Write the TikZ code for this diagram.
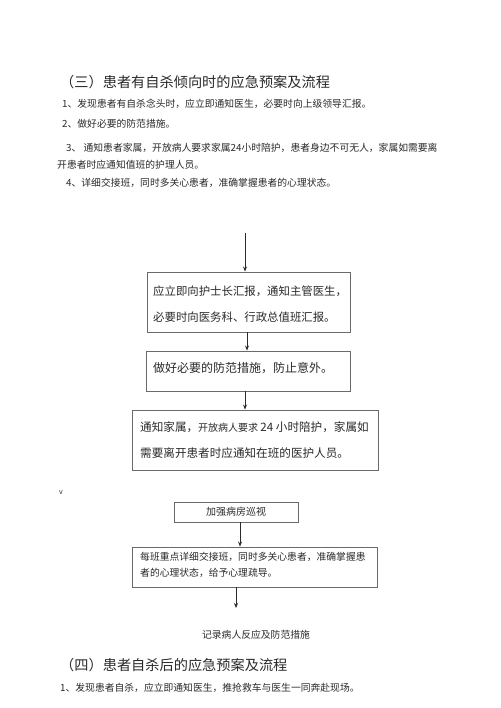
\documentclass[tikz,border=0pt]{standalone}
\usepackage{fontspec}
\setmainfont{Liberation Serif}
\newfontfamily\cjk{Noto Sans CJK SC}
\usetikzlibrary{arrows.meta}
\definecolor{ink}{HTML}{2A2A2A}
\definecolor{boxline}{HTML}{6A6A6A}
\tikzset{
  flowbox/.style={draw=boxline, line width=0.9pt},
  txt/.style={anchor=west, inner sep=0pt, text=ink, font=\cjk\fontsize{#1}{#1}\selectfont},
  txt/.default=10,
  arr/.style={draw=ink, line width=0.8pt, -{Stealth[length=5pt,width=4pt]}}
}
\begin{document}
\begin{tikzpicture}[x=1pt,y=-1pt]
\useasboundingbox[fill=white] (0,0) rectangle (500,708);
% header text
\node[txt=14.2] (t3) at (60,82) {（三）患者有自杀倾向时的应急预案及流程};
\node[txt=9.8] (l1) at (62,104) {1、发现患者有自杀念头时，应立即通知医生，必要时向上级领导汇报。};
\node[txt=9.8] (l2) at (62,124) {2、做好必要的防范措施。};
\node[txt=9.8] (l3) at (66,148) {3、 通知患者家属，开放病人要求家属24小时陪护，患者身边不可无人，家属如需要离};
\node[txt=9.8] (l3b) at (57,165) {开患者时应通知值班的护理人员。};
\node[txt=9.8] (l4) at (66,183) {4、详细交接班，同时多关心患者，准确掌握患者的心理状态。};
% flow boxes
\node[flowbox, minimum width=203pt, minimum height=60pt] (b1) at (248.5,302) {};
\node[txt=11.4] at (153,291) {应立即向护士长汇报，通知主管医生，};
\node[txt=11.4] at (153,317) {必要时向医务科、行政总值班汇报。};
\node[flowbox, minimum width=204pt, minimum height=40pt] (b2) at (248,371) {};
\node[txt=12] at (153,368) {做好必要的防范措施，防止意外。};
\node[flowbox, minimum width=246pt, minimum height=60pt] (b3) at (255,440) {};
\node[txt=11.6] at (140,427) {通知家属，\fontsize{10}{10}\selectfont 开放病人要求 \fontsize{11.6}{11.6}\selectfont 24 小时陪护，家属如};
\node[txt=11.6] at (140,453) {需要离开患者时应通知在班的医护人员。};
\node[txt=7, text=ink] (v) at (59,493) {v};
\node[flowbox, minimum width=124pt, minimum height=20pt] (b4) at (236,512) {};
\node[txt=10, anchor=center] at (b4) {加强病房巡视};
\node[flowbox, minimum width=245pt, minimum height=40pt] (b5) at (254.5,567) {};
\node[txt=9.8] at (140,557) {每班重点详细交接班，同时多关心患者，准确掌握患};
\node[txt=9.8] at (140,573) {者的心理状态，给予心理疏导。};
\coordinate (top) at (245,233);
\coordinate (end) at (236,608);
\node[txt=9.8, anchor=center] (rec) at (256,635) {记录病人反应及防范措施};
% arrows
\draw[arr] (top) -- (top |- b1.north);
\draw[arr] (b1.south -| 247,0) -- (b2.north -| 247,0);
\draw[arr] (b2.south -| 245,0) -- (b3.north -| 245,0);
\draw[arr] (b4.south -| 240,0) -- (b5.north -| 240,0);
\draw[arr] (b5.south -| 236,0) -- (end);
% footer
\node[txt=14.2] (t4) at (60,665) {（四）患者自杀后的应急预案及流程};
\node[txt=9.8] (f1) at (60,688) {1、发现患者自杀，应立即通知医生，推抢救车与医生一同奔赴现场。};
\end{tikzpicture}
\end{document}
